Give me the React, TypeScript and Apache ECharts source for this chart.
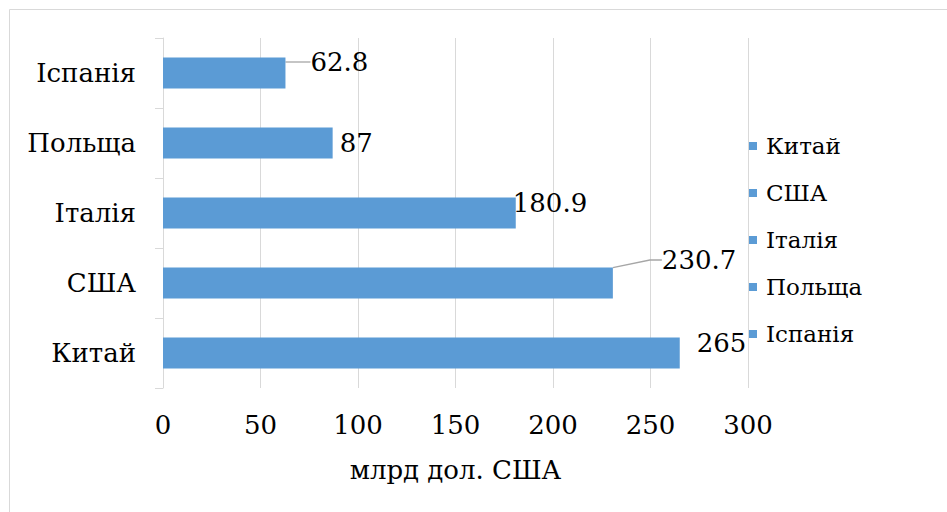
import React, { useEffect, useRef } from "react";
import * as echarts from "echarts";

const categories = ["Китай", "США", "Італія", "Польща", "Іспанія"];
const values = [265, 230.7, 180.9, 87, 62.8];
const xTicks = { min: 0, max: 300, interval: 50 };
const axisTitle = "млрд дол. США";

const FONT = "DejaVu Serif";
const FS = 26;
const BAR = "#5B9BD5";
const GRID = "#d9d9d9";

// label offsets (visual placement only)
const labelShift: Record<string, { dx: number; dy: number; line: boolean }> = {
  "Китай": { dx: 12, dy: -10, line: false },
  "США": { dx: 44, dy: -23, line: true },
  "Італія": { dx: -8, dy: -10, line: false },
  "Польща": { dx: 2, dy: 0, line: false },
  "Іспанія": { dx: 20, dy: -11, line: true },
};

export default function App() {
  const ref = useRef<HTMLDivElement>(null);
  useEffect(() => {
    if (!ref.current) return;
    const chart = echarts.init(ref.current, undefined, { renderer: "svg" });
    const series = categories.map((name, i) => ({
      name,
      type: "bar",
      stack: "total",
      barCategoryGap: "56%",
      itemStyle: { color: BAR },
      data: categories.map((_, j) => (j === i ? values[i] : "-")),
      label: {
        show: true,
        position: "right",
        distance: 5,
        color: "#000",
        fontFamily: FONT,
        fontSize: FS,
        formatter: (p: any) => String(p.value),
      },
      labelLayout: { dx: labelShift[name].dx, dy: labelShift[name].dy },
      labelLine: {
        show: labelShift[name].line,
        lineStyle: { color: "#a6a6a6", width: 1.3 },
        length2: 12,
      },
    }));
    chart.setOption({
      animation: false,
      backgroundColor: "#fff",
      textStyle: { fontFamily: FONT },
      graphic: [
        {
          type: "rect",
          shape: { x: 9.5, y: 9.5, width: 980, height: 560 },
          style: { fill: "none", stroke: GRID, lineWidth: 1 },
          silent: true,
        },
      ],
      grid: { left: 163, right: 199, top: 38, bottom: 124, containLabel: false },
      legend: {
        orient: "vertical",
        left: 744,
        top: 127,
        icon: "rect",
        itemWidth: 8,
        itemHeight: 8,
        itemGap: 19,
        data: categories,
        textStyle: {
          fontFamily: FONT,
          fontSize: 23,
          lineHeight: 28,
          color: "#000",
          padding: [0, 0, 0, 4],
        },
      },
      xAxis: {
        type: "value",
        min: xTicks.min,
        max: xTicks.max,
        interval: xTicks.interval,
        axisLine: { show: false },
        axisTick: { show: false },
        splitLine: { show: true, lineStyle: { color: GRID, width: 1 } },
        axisLabel: { fontFamily: FONT, fontSize: FS, color: "#000", margin: 24 },
        name: axisTitle,
        nameLocation: "middle",
        nameGap: 69,
        nameTextStyle: { fontFamily: FONT, fontSize: FS, color: "#000" },
      },
      yAxis: {
        type: "category",
        data: categories,
        axisLine: { show: true, lineStyle: { color: GRID, width: 1 } },
        axisTick: { show: true, length: 8, lineStyle: { color: GRID } },
        axisLabel: { fontFamily: FONT, fontSize: FS, color: "#000", margin: 27 },
        splitLine: { show: false },
      },
      series,
    });
    return () => chart.dispose();
  }, []);
  return (
    <div
      ref={ref}
      style={{ position: "fixed", left: 0, top: 0, width: 947, height: 512 }}
    />
  );
}
